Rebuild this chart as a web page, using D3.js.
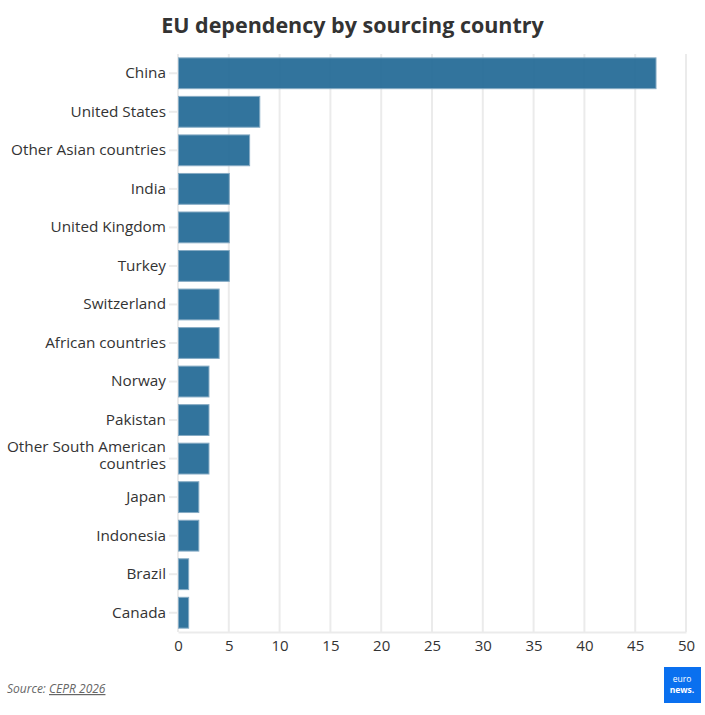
<!DOCTYPE html>
<html>
<head>
<meta charset="utf-8">
<script src="https://cdn.jsdelivr.net/npm/d3@7"></script>
<style>
  body { margin: 0; background: #fff; font-family: "Open Sans", sans-serif; }
  svg text { font-family: "Open Sans", sans-serif; }
</style>
</head>
<body>
<div id="chart"></div>
<script>
const countries = ["China", "United States", "Other Asian countries", "India", "United Kingdom",
    "Turkey", "Switzerland", "African countries", "Norway", "Pakistan",
    "Other South American countries", "Japan", "Indonesia", "Brazil", "Canada"];
const values = [47, 8, 7, 5, 5, 5, 4, 4, 3, 3, 3, 2, 2, 1, 1];
const xTicks = [0, 5, 10, 15, 20, 25, 30, 35, 40, 45, 50];

const width = 705, height = 715;
const margin = { top: 54, right: 19, bottom: 83, left: 178 };

const svg = d3.select('#chart')
    .append('svg')
    .attr('width', width)
    .attr('height', height);

svg.append('text')
    .attr('x', width / 2)
    .attr('y', 33)
    .attr('text-anchor', 'middle')
    .style('font-size', '21.5px')
    .style('font-weight', 'bold')
    .style('fill', '#333')
    .text('EU dependency by sourcing country');

const xScale = d3.scaleLinear()
    .domain([0, 50])
    .range([margin.left, width - margin.right]);

const yScale = d3.scaleBand()
    .domain(countries)
    .range([margin.top, height - margin.bottom])
    .paddingInner(0.2)
    .paddingOuter(0.1);

// gridlines
svg.append('g')
    .selectAll('line')
    .data(xTicks)
    .enter()
    .append('line')
    .attr('x1', d => xScale(d))
    .attr('x2', d => xScale(d))
    .attr('y1', margin.top)
    .attr('y2', height - margin.bottom)
    .attr('stroke', '#ebebeb')
    .attr('stroke-width', 2);

// bars
const data = countries.map((c, i) => ({ country: c, value: values[i] }));
svg.selectAll('.bar')
    .data(data)
    .enter()
    .append('rect')
    .attr('class', 'bar')
    .attr('x', xScale(0) + 0.5)
    .attr('y', d => yScale(d.country))
    .attr('width', d => xScale(d.value) - xScale(0))
    .attr('height', yScale.bandwidth())
    .attr('fill', '#216895')
    .attr('fill-opacity', 0.92)
    .attr('stroke', '#86abc4')
    .attr('stroke-width', 1);

// x axis
const xAxis = d3.axisBottom(xScale).tickValues(xTicks).tickSize(0).tickPadding(8);
const gx = svg.append('g')
    .attr('transform', `translate(0, ${height - margin.bottom})`)
    .call(xAxis);
gx.select('.domain').attr('stroke', '#ebebeb').attr('stroke-width', 2);
gx.selectAll('text').style('font-size', '15px').style('fill', '#333');

// y axis
const yAxis = d3.axisLeft(yScale).tickSize(8).tickPadding(3);
const gy = svg.append('g')
    .attr('transform', `translate(${margin.left - 1}, 0)`)
    .call(yAxis);
gy.select('.domain').remove();
gy.selectAll('line').attr('stroke', '#ebebeb').attr('stroke-width', 2);
gy.selectAll('text')
    .style('font-size', '15.3px')
    .style('fill', '#333')
    .each(function (d) {
        if (d === 'Other South American countries') {
            const t = d3.select(this);
            t.text(null);
            t.append('tspan').attr('x', -11).attr('dy', '-0.45em').text('Other South American');
            t.append('tspan').attr('x', -11).attr('dy', '1.15em').text('countries');
        }
    });

// source
const src = svg.append('text')
    .attr('x', 7)
    .attr('y', 693)
    .style('font-size', '12px')
    .style('font-style', 'italic')
    .style('fill', '#666');
src.append('tspan').text('Source: ');
src.append('tspan').style('text-decoration', 'underline').text('CEPR 2026');

// logo
const logo = svg.append('g').attr('transform', 'translate(664, 667)');
logo.append('rect').attr('width', 37).attr('height', 36).attr('fill', '#0a70ef');
logo.append('text').attr('x', 18).attr('y', 15).attr('text-anchor', 'middle')
    .style('font-size', '8.5px').style('fill', '#fff').text('euro');
logo.append('text').attr('x', 18).attr('y', 26).attr('text-anchor', 'middle')
    .style('font-size', '8.5px').style('font-weight', 'bold').style('fill', '#fff').text('news.');
</script>
</body>
</html>
